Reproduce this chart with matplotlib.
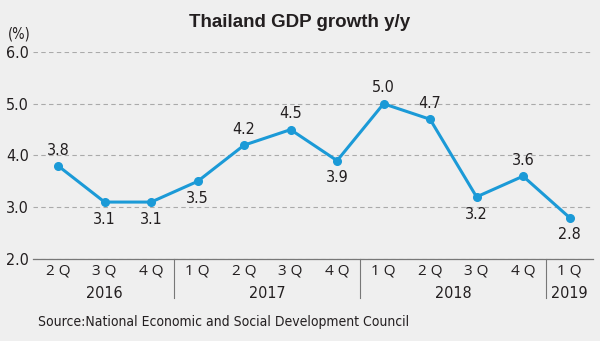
import matplotlib.pyplot as plt

# Thailand GDP growth y/y, quarterly
quarters = ["2 Q", "3 Q", "4 Q", "1 Q", "2 Q", "3 Q", "4 Q",
            "1 Q", "2 Q", "3 Q", "4 Q", "1 Q"]
growth = [3.8, 3.1, 3.1, 3.5, 4.2, 4.5, 3.9, 5.0, 4.7, 3.2, 3.6, 2.8]
label_side = ["up", "down", "down", "down", "up", "up", "down",
              "up", "up", "down", "up", "down"]
years = ["2016", "2017", "2018", "2019"]
year_spans = [(0, 2), (3, 6), (7, 10), (11, 11)]

bg = "#efefef"
blue = "#1b9ad7"
ink = "#231f20"
cond = dict(family="DejaVu Sans", stretch="condensed")

fig = plt.figure(figsize=(6, 3.41), dpi=100, facecolor=bg)
ax = fig.add_axes([0.055, 0.2405, 0.933, 0.607], facecolor=bg)

x = list(range(len(growth)))
ax.plot(x, growth, color=blue, lw=2.2, marker="o", ms=5.5, zorder=3,
        clip_on=False)

for i, (v, side) in enumerate(zip(growth, label_side)):
    dy = 6 if side == "up" else -7
    ax.annotate(f"{v:.1f}", (i, v), xytext=(0, dy), textcoords="offset points",
                ha="center", va="bottom" if side == "up" else "top",
                fontsize=11.5, color=ink, **cond)

ax.set_ylim(2, 6)
ax.set_xlim(-0.54, 11.5)
ax.set_yticks([2, 3, 4, 5, 6])
ax.set_yticklabels([f"{t:.1f}" for t in [2, 3, 4, 5, 6]], fontsize=11.5,
                   color=ink, **cond)
ax.yaxis.grid(True, ls=(0, (4, 3)), color="#aaaaaa", lw=0.8)
ax.set_axisbelow(True)
ax.tick_params(axis="y", length=0, pad=3)

ax.set_xticks(x)
ax.set_xticklabels(quarters, fontsize=11, family="Open Sans", color=ink)
ax.tick_params(axis="x", length=0, pad=3)

for s in ["top", "right", "left"]:
    ax.spines[s].set_visible(False)
ax.spines["bottom"].set_color("#777777")
ax.spines["bottom"].set_linewidth(0.9)

# year separators and labels
trans = ax.get_xaxis_transform()
for sep in [2.5, 6.5, 10.5]:
    ax.plot([sep, sep], [0, -0.19], transform=trans, color="#777777",
            lw=0.8, clip_on=False)
for yr, (a, b) in zip(years, year_spans):
    ax.text((a + b) / 2, -0.165, yr, transform=trans, ha="center",
            va="center", fontsize=11.5, color=ink, **cond)

fig.text(0.5, 0.935, "Thailand GDP growth y/y", ha="center", va="center",
         fontsize=13.5, fontweight="bold", family="Liberation Sans",
         color=ink)
fig.text(0.013, 0.90, "(%)", ha="left", va="center", fontsize=10.5,
         color=ink, **cond)
fig.text(0.063, 0.055, "Source:National Economic and Social Development Council",
         ha="left", va="center", fontsize=10, color=ink, **cond)

fig.savefig("out.png", dpi=100, facecolor=bg)
